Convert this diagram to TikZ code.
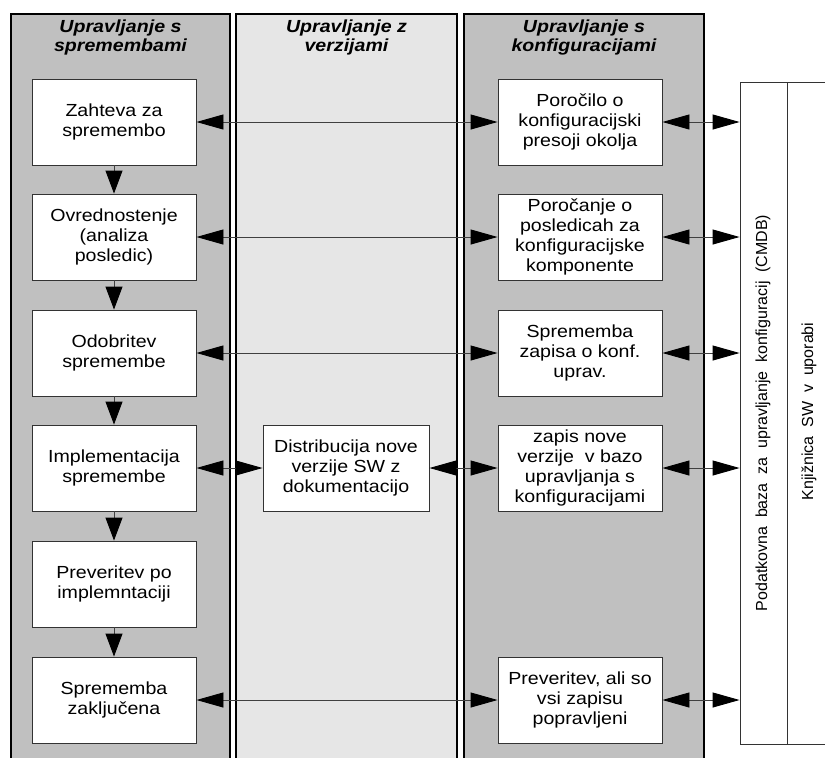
\documentclass[tikz,border=0pt]{standalone}
\usepackage{fontspec}
\setmainfont{Liberation Sans}[FakeStretch=1.12]
\newfontfamily\vsans{Liberation Sans}
\usetikzlibrary{arrows.meta}
\definecolor{lanedark}{HTML}{C0C0C0}
\definecolor{lanelight}{HTML}{E6E6E6}
\definecolor{boxline}{HTML}{333333}
\definecolor{connline}{HTML}{404040}
\tikzset{
  lane/.style={draw=black, line width=2.6pt},
  hdr/.style={align=center, inner sep=0pt, font=\bfseries\itshape\fontsize{17.5}{19}\selectfont},
  procbox/.style={draw=boxline, line width=0.9pt, fill=white, align=center, inner sep=0pt,
     minimum width=164pt, minimum height=86pt, font=\fontsize{17.5}{20}\selectfont},
  dbbox/.style={draw=boxline, line width=0.9pt, fill=white, inner sep=0pt,
     minimum width=100pt, minimum height=662pt},
  vlabel/.style={rotate=90, inner sep=0pt, font=\vsans\fontsize{16}{18}\selectfont},
  tipL/.style={},
  conn/.style={draw=connline, line width=0.9pt},
  both/.style={conn, {Triangle[length=27pt,width=15pt,color=black]}-{Triangle[length=27pt,width=15pt,color=black]}},
  down/.style={conn, -{Triangle[length=23pt,width=17pt,color=black]}}
}
\begin{document}
\begin{tikzpicture}[x=1pt,y=-1pt]
\useasboundingbox (0,0) rectangle (825,758);
% lanes
\draw[lane, fill=lanedark] (11,14) rectangle (230,775);
\draw[lane, fill=lanelight] (236,14) rectangle (457,775);
\draw[lane, fill=lanedark] (464,14) rectangle (704,775);
% headers
\node[hdr] (h1) at (120.5,37) {Upravljanje s\\spremembami};
\node[hdr] (h2) at (346.5,37) {Upravljanje z\\verzijami};
\node[hdr] (h3) at (584,37) {Upravljanje s\\konfiguracijami};
% database
\node[dbbox] (db) at (790,413) {};
\draw[draw=boxline, line width=0.9pt] (787,82) coordinate (dbm1) -- (787,744) coordinate (dbm2);
\node[vlabel] (t1) at (763,413) {Podatkovna~~baza~~za~~upravljanje~~konfiguracij~~(CMDB)};
\node[vlabel] (t2) at (809,411.5) {Knjižnica~~SW~~v~~uporabi};
% left column
\node[procbox] (l1) at (114,122) {Zahteva za\\spremembo};
\node[procbox] (l2) at (114,237) {Ovrednostenje\\(analiza\\posledic)};
\node[procbox] (l3) at (114,353) {Odobritev\\spremembe};
\node[procbox] (l4) at (114,468) {Implementacija\\spremembe};
\node[procbox] (l5) at (114,584) {Preveritev po\\implemntaciji};
\node[procbox] (l6) at (114,700) {Sprememba\\zaključena};
% middle
\node[procbox, minimum width=166pt] (m4) at (346,468) {Distribucija nove\\verzije SW z\\dokumentacijo};
% right column
\node[procbox] (r1) at (580,122) {Poročilo o\\konfiguracijski\\presoji okolja};
\node[procbox] (r2) at (580,237) {Poročanje o\\posledicah za\\konfiguracijske\\komponente};
\node[procbox] (r3) at (580,353) {Sprememba\\zapisa o konf.\\uprav.};
\node[procbox] (r4) at (580,468) {zapis nove\\verzije~ v bazo\\upravljanja s\\konfiguracijami};
\node[procbox] (r6) at (580,700) {Preveritev, ali so\\vsi zapisu\\popravljeni};
% vertical flow
\draw[down] (l1.south) -- (l2.north);
\draw[down] (l2.south) -- (l3.north);
\draw[down] (l3.south) -- (l4.north);
\draw[down] (l4.south) -- (l5.north);
\draw[down] (l5.south) -- (l6.north);
% horizontal links
\draw[both] (l1.east) -- (r1.west);
\draw[both] (l2.east) -- (r2.west);
\draw[both] (l3.east) -- (r3.west);
\draw[both] (l4.east) -- (m4.west);
\draw[both] (m4.east) -- (r4.west);
\draw[both] (l6.east) -- (r6.west);
% to database
\draw[both] (r1.east) -- (r1.east -| db.west);
\draw[both] (r2.east) -- (r2.east -| db.west);
\draw[both] (r3.east) -- (r3.east -| db.west);
\draw[both] (r4.east) -- (r4.east -| db.west);
\draw[both] (r6.east) -- (r6.east -| db.west);
\end{tikzpicture}
\end{document}
